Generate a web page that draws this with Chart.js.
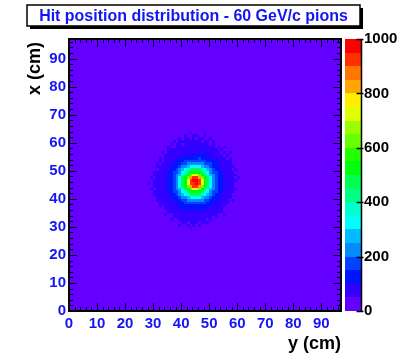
<!DOCTYPE html>
<html>
<head>
<meta charset="utf-8">
<script src="https://cdn.jsdelivr.net/npm/chart.js@4.4.1/dist/chart.umd.min.js"></script>
<style>
  html, body { margin: 0; padding: 0; background: #fff; }
</style>
</head>
<body>
<canvas id="chart" width="407" height="355"></canvas>
<script>
// binning of the hit map (1 cm bins)
var nBinsX = 97;
var nBinsY = 97;
var xTicks = [0, 10, 20, 30, 40, 50, 60, 70, 80, 90];
var yTicks = [0, 10, 20, 30, 40, 50, 60, 70, 80, 90];
var zTicks = [0, 200, 400, 600, 800, 1000];
var zMax = 1000;
var nContours = 20;

// 20 contour colours, lowest band first
var palette = ["#6300ff", "#3300ff", "#0014ff", "#0044ff", "#008bff",
               "#00bbff", "#00fffc", "#00ffcc", "#00ff85", "#00ff55",
               "#00ff0e", "#22ff00", "#69ff00", "#99ff00", "#e0ff00",
               "#ffee00", "#ffa700", "#ff7700", "#ff3000", "#ff0000"];

// content of every bin outside the spot (lowest band)
var backgroundBand = 0;

// the beam spot, read bin by bin as contour band (0-9 then a-j = 10-19)
// first row is y = 64 and goes down one bin per row
// "|" is the edge between x = 44 and x = 45
var spotTopRow = 64;
var spotRows = [
  "|",
  "10|0001",
  "1001|10010",
  "101101|01100100",
  "10111111|1101101",
  "101101111|1111101",
  "1001111111|11111110101",
  "1111111111|1121111101",
  "101111111111|1111211110101",
  "11111112122|222211111101",
  "1011111222222|2322221111101",
  "1011112223333|3333222211111",
  "10111122233444|4443332211111",
  "11111222344566|66544322211111",
  "1111223456799|997654322111101",
  "1111122334679aa|aa976433221111",
  "111112234579ace|eca975432211111",
  "101111223469acgi|igca964322111101",
  "11111223469aeij|jiea96432211111",
  "1011111223469aeii|jiea9643222111",
  "11111223469acgi|igca9643221111",
  "1011112234579ace|eca975432211111",
  "1111122334679aa|aa976433221111",
  "111111223456799|9976543221111",
  "11111222344566|6654432221111",
  "11111122233444|44433222111101",
  "1111112223333|333322211111",
  "1011111222222|22222211111",
  "11111122222|2222111111",
  "1111111111|1111111111",
  "10011111111|11111111001",
  "11111111|11111101",
  "100111111|111101",
  "11011|10111",
  "100101|01",
  "10|",
  "|",
  "|"
];

var blue = "rgb(20,20,245)";
var fontFamily = "'Liberation Sans', Arial, Helvetica, sans-serif";

// build the bin table
var bands = [];
for (var j = 0; j < nBinsY; j++) {
  bands.push([]);
  for (var i = 0; i < nBinsX; i++) bands[j].push(backgroundBand);
}
spotRows.forEach(function(row, r) {
  var y = spotTopRow - r;
  var parts = row.split("|");
  var left = parts[0], right = parts[1];
  for (var k = 0; k < left.length; k++) {
    var x = 44 - (left.length - 1 - k);
    bands[y][x] = parseInt(left[k], 20);
  }
  for (var k = 0; k < right.length; k++) {
    bands[y][45 + k] = parseInt(right[k], 20);
  }
});
var bandWidth = zMax / nContours;
var cells = [];
for (var j = 0; j < nBinsY; j++) {
  for (var i = 0; i < nBinsX; i++) {
    cells.push({ x: i, y: j, v: bands[j][i] * bandWidth + bandWidth / 2 });
  }
}

function colorFor(v) {
  var k = Math.floor(v / bandWidth);
  if (k > nContours - 1) k = nContours - 1;
  return palette[k];
}

// paints the bins with the scales of the chart
var heatmap = {
  id: "heatmap",
  beforeDatasetsDraw: function(chart) {
    var ctx = chart.ctx, xs = chart.scales.x, ys = chart.scales.y;
    var ca = chart.chartArea;
    ctx.save();
    ctx.beginPath();
    ctx.rect(ca.left, ca.top, ca.right - ca.left, ca.bottom - ca.top);
    ctx.clip();
    chart.data.datasets[0].data.forEach(function(c) {
      var x0 = Math.round(xs.getPixelForValue(c.x));
      var x1 = Math.round(xs.getPixelForValue(c.x + 1));
      var y0 = Math.round(ys.getPixelForValue(c.y + 1));
      var y1 = Math.round(ys.getPixelForValue(c.y));
      ctx.fillStyle = colorFor(c.v);
      ctx.fillRect(x0, y0, x1 - x0, y1 - y0);
    });
    ctx.restore();
  }
};

function line(ctx, x0, y0, x1, y1) {
  ctx.beginPath();
  ctx.moveTo(x0, y0);
  ctx.lineTo(x1, y1);
  ctx.stroke();
}

// frame, inward ticks, palette and texts
var decorations = {
  id: "decorations",
  afterDatasetsDraw: function(chart) {
    var ctx = chart.ctx, ca = chart.chartArea;
    var xs = chart.scales.x, ys = chart.scales.y;
    ctx.save();
    ctx.strokeStyle = "#000";
    ctx.lineWidth = 1;
    for (var v = 0; v <= nBinsX; v += 2) {
      var len = v % 10 === 0 ? 8 : 4;
      var p = Math.round(xs.getPixelForValue(v)) + 0.5;
      line(ctx, p, ca.bottom, p, ca.bottom - len);
      line(ctx, p, ca.top, p, ca.top + len);
    }
    for (var v = 0; v <= nBinsY; v += 2) {
      var len = v % 10 === 0 ? 8 : 4;
      var p = Math.round(ys.getPixelForValue(v)) + 0.5;
      line(ctx, ca.left, p, ca.left + len, p);
      line(ctx, ca.right, p, ca.right - len, p);
    }
    ctx.lineWidth = 2;
    ctx.strokeRect(ca.left, ca.top, ca.right - ca.left, ca.bottom - ca.top);
    ctx.restore();
  },
  afterDraw: function(chart) {
    var ctx = chart.ctx, ca = chart.chartArea;
    var zs = chart.scales.z;
    ctx.save();
    // colour palette
    var palX = ca.right + 4, palW = 16;
    for (var k = 0; k < nContours; k++) {
      var yTop = Math.round(zs.getPixelForValue((k + 1) * bandWidth));
      var yBot = Math.round(zs.getPixelForValue(k * bandWidth));
      ctx.fillStyle = palette[k];
      ctx.fillRect(palX, yTop, palW, yBot - yTop);
    }
    ctx.strokeStyle = "#000";
    ctx.lineWidth = 1.5;
    var axX = palX + palW + 0.5;
    line(ctx, axX, zs.getPixelForValue(0), axX, zs.getPixelForValue(zMax));
    zTicks.forEach(function(t) {
      var p = Math.round(zs.getPixelForValue(t)) + 0.5;
      line(ctx, axX - 5, p, axX + 2, p);
    });

    // title box with shadow
    var bx = 27, by = 5, bw = 333, bh = 21;
    ctx.fillStyle = "#000";
    ctx.fillRect(bx + 3, by + 3, bw, bh);
    ctx.fillStyle = "#fff";
    ctx.fillRect(bx, by, bw, bh);
    ctx.lineWidth = 1.5;
    ctx.strokeRect(bx, by, bw, bh);
    var title = "Hit position distribution - 60 GeV/c pions";
    ctx.font = "bold 16px " + fontFamily;
    var size = 16 * 309 / ctx.measureText(title).width;
    ctx.font = "bold " + size.toFixed(2) + "px " + fontFamily;
    ctx.fillStyle = blue;
    ctx.textAlign = "center";
    ctx.textBaseline = "middle";
    ctx.fillText(title, bx + bw / 2, by + bh / 2 + 1);

    // axis titles
    ctx.fillStyle = "#000";
    ctx.font = "bold 18px " + fontFamily;
    ctx.textAlign = "right";
    ctx.textBaseline = "alphabetic";
    ctx.fillText("y (cm)", ca.right, 349);
    ctx.translate(40, ca.top + 3);
    ctx.rotate(-Math.PI / 2);
    ctx.fillText("x (cm)", 0, 0);
    ctx.restore();
  }
};

function fixedTicks(list) {
  return function(scale) {
    scale.ticks = list.map(function(v) { return { value: v }; });
  };
}

var tickFont = { family: fontFamily, size: 15, weight: "bold" };

var chart = new Chart("chart", {
  type: "scatter",
  data: {
    datasets: [{
      label: "hits",
      data: cells,
      pointRadius: 0,
      pointHoverRadius: 0
    }]
  },
  options: {
    responsive: false,
    animation: false,
    devicePixelRatio: 1,
    events: [],
    layout: { padding: { top: 39, left: 0, right: 0, bottom: 0 } },
    plugins: {
      legend: { display: false },
      tooltip: { enabled: false },
      title: { display: false }
    },
    scales: {
      x: {
        type: "linear", min: 0, max: nBinsX,
        afterBuildTicks: fixedTicks(xTicks),
        afterFit: function(s) { s.height = 44; },
        grid: { display: false, drawTicks: false },
        border: { display: false },
        ticks: { color: blue, font: tickFont, padding: 4, maxRotation: 0, autoSkip: false,
                 callback: function(v) { return String(v); } }
      },
      y: {
        type: "linear", min: 0, max: nBinsY,
        afterBuildTicks: fixedTicks(yTicks),
        afterFit: function(s) { s.width = 69; },
        grid: { display: false, drawTicks: false },
        border: { display: false },
        ticks: { color: blue, font: tickFont, padding: 3, autoSkip: false,
                 callback: function(v) { return String(v); } }
      },
      z: {
        type: "linear", axis: "y", position: "right", min: 0, max: zMax,
        afterBuildTicks: fixedTicks(zTicks),
        afterFit: function(s) { s.width = 66; },
        grid: { display: false, drawTicks: false },
        border: { display: false },
        ticks: { color: "#000", font: tickFont, padding: 23, autoSkip: false,
                 callback: function(v) { return String(v); } }
      }
    }
  },
  plugins: [heatmap, decorations]
});
</script>
</body>
</html>
